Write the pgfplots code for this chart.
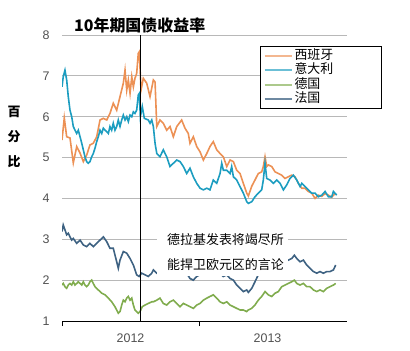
\documentclass[border=0pt]{standalone}
\usepackage{pgfplots}
\pgfplotsset{compat=1.18}
\usepackage{fontspec}
\setmainfont{Liberation Sans}
\newfontfamily\cjk{Noto Sans CJK SC}
\definecolor{spain}{RGB}{236,145,85}
\definecolor{italy}{RGB}{28,157,192}
\definecolor{germany}{RGB}{128,172,78}
\definecolor{france}{RGB}{62,98,130}
\definecolor{ticktext}{RGB}{80,80,80}
\begin{document}
\begin{tikzpicture}[x=1bp,y=1bp]
\useasboundingbox (0,0) rectangle (410,351);
\begin{axis}[
  at={(62bp,30bp)}, anchor=south west, scale only axis,
  width=285bp, height=286bp,
  xmin=0, xmax=24.96, ymin=1, ymax=8,
  axis x line*=bottom, axis y line*=left,
  y axis line style={draw=none},
  x axis line style={-, black, line width=0.9bp},
  ytick={1,2,...,8}, ytick style={draw=none},
  ymajorgrids, grid style={draw=black!28, line width=0.8bp},
  xtick={0,12}, xticklabels={},
  extra x ticks={6,18}, extra x tick labels={2012,2013},
  extra x tick style={major tick length=0pt, grid=none},
  tick align=outside, major tick length=5bp,
  xtick style={black, line width=0.9bp},
  /pgf/number format/assume math mode=true,
  tick label style={font=\fontsize{12.5}{14}\selectfont, text=ticktext},
  yticklabel style={xshift=-4bp},
  xticklabel style={yshift=-9bp},
  legend style={at={(0.695,0.9615)}, anchor=north west, draw=black, line width=0.9bp,
    font=\cjk\fontsize{13}{13}\selectfont, inner xsep=3bp, inner ysep=2bp,
    row sep=0bp, fill=white,
    nodes={text height=10bp, text depth=2.5bp, inner ysep=1bp, text width=82bp}},
  legend cell align=left,
  legend image code/.code={\draw[#1] (0bp,0bp) -- (27bp,0bp);},
]
\addplot[spain, line width=1.6bp, forget plot] coordinates {
(0,5.43)(0.20,5.97)(0.41,5.51)(0.70,5.48)(0.99,4.87)(1.29,5.27)(1.58,5.11)(1.87,4.90)
(2.16,5.06)(2.45,5.31)(2.74,5.35)(3.04,5.51)(3.33,5.92)(3.62,5.96)(3.92,5.92)(4.20,6.08)
(4.49,6.33)(4.79,6.16)(5.08,6.49)(5.37,6.82)(5.52,7.14)(5.67,6.65)(5.81,6.90)(5.96,6.57)
(6.11,6.98)(6.25,6.73)(6.39,6.94)(6.54,7.06)(6.68,7.55)(6.77,7.59)(6.92,6.65)(7.12,6.94)
(7.42,6.82)(7.71,6.49)(8.00,6.90)(8.15,6.85)(8.30,5.76)(8.58,5.92)(8.87,5.84)(9.17,5.67)
(9.46,5.76)(9.75,5.51)(10.05,5.76)(10.48,5.92)(10.77,5.72)(11.06,5.59)(11.21,5.35)(11.50,5.51)
(11.80,5.27)(12.09,5.14)(12.38,4.94)(12.68,5.10)(12.96,5.27)(13.25,5.39)(13.55,5.19)(13.84,5.10)
(14.13,5.02)(14.43,4.78)(14.72,4.94)(15.01,4.90)(15.30,4.69)(15.59,4.61)(15.88,4.37)(16.18,4.13)
(16.32,4.06)(16.62,4.30)(16.90,4.45)(17.19,4.61)(17.49,4.65)(17.63,4.78)(17.78,5.02)(17.93,4.78)
(18.07,4.82)(18.37,4.78)(18.66,4.65)(18.95,4.61)(19.24,4.57)(19.53,4.49)(19.82,4.53)(20.12,4.57)
(20.41,4.53)(20.70,4.37)(21.00,4.25)(21.28,4.25)(21.57,4.17)(21.87,4.13)(22.16,4.00)(22.45,4.08)
(22.75,4.05)(23.04,4.12)(23.33,4.08)(23.62,4.03)(23.91,4.12)
};
\addplot[italy, line width=1.6bp, forget plot] coordinates {
(0,6.73)(0.11,6.98)(0.26,7.14)(0.41,6.90)(0.55,6.49)(0.70,6.16)(0.85,6.00)(0.99,5.76)
(1.14,5.67)(1.29,5.59)(1.43,5.67)(1.58,5.51)(1.73,5.35)(2.01,5.02)(2.16,4.90)(2.30,4.86)
(2.45,4.90)(2.60,5.02)(2.74,5.10)(2.89,5.23)(3.04,5.39)(3.18,5.51)(3.33,5.67)(3.48,5.59)
(3.62,5.72)(3.77,5.67)(3.92,5.63)(4.06,5.59)(4.20,5.76)(4.35,5.67)(4.49,5.84)(4.64,5.67)
(4.79,5.76)(4.93,5.92)(5.08,5.76)(5.23,5.92)(5.37,6.04)(5.52,5.92)(5.67,6.00)(5.81,5.88)
(5.96,6.04)(6.11,6.00)(6.25,6.12)(6.39,6.08)(6.54,6.16)(6.68,6.53)(6.77,6.57)(6.86,6.00)
(7.03,6.25)(7.21,5.96)(7.56,5.92)(7.71,5.84)(7.86,5.92)(8.00,5.76)(8.15,5.35)(8.30,5.10)
(8.58,5.02)(8.87,5.19)(9.17,5.02)(9.46,4.78)(9.75,4.86)(10.05,4.94)(10.34,4.90)(10.63,4.78)
(10.92,4.61)(11.21,4.74)(11.50,4.53)(11.80,4.37)(12.09,4.25)(12.38,4.21)(12.68,4.25)(12.96,4.21)
(13.25,4.45)(13.55,4.37)(13.84,4.61)(13.99,4.86)(14.13,4.69)(14.43,4.69)(14.72,4.61)(14.86,4.78)
(15.01,4.53)(15.30,4.45)(15.59,4.29)(15.88,4.13)(16.18,3.92)(16.32,3.88)(16.62,3.92)(16.90,4.04)
(17.19,4.13)(17.49,4.21)(17.63,4.45)(17.78,4.86)(17.93,4.49)(18.22,4.45)(18.51,4.37)(18.81,4.45)
(19.10,4.37)(19.39,4.21)(19.68,4.33)(19.97,4.49)(20.26,4.57)(20.56,4.45)(20.85,4.29)(21.00,4.37)
(21.28,4.29)(21.57,4.21)(21.87,4.13)(22.16,4.13)(22.45,4.04)(22.75,4.08)(23.04,4.17)(23.33,4.04)
(23.62,4.04)(23.77,4.17)(24.06,4.08)
};
\addplot[germany, line width=1.6bp, forget plot] coordinates {
(0,1.88)(0.11,1.92)(0.26,1.84)(0.41,1.80)(0.55,1.88)(0.70,1.92)(0.85,1.88)(0.99,1.96)
(1.14,1.88)(1.29,1.92)(1.43,1.96)(1.58,1.92)(1.73,1.88)(1.87,1.96)(2.01,1.88)(2.16,1.84)
(2.30,1.88)(2.45,1.96)(2.60,2.00)(2.74,1.92)(2.89,1.84)(3.18,1.76)(3.48,1.68)(3.77,1.64)
(4.06,1.56)(4.35,1.47)(4.64,1.35)(4.93,1.19)(5.08,1.23)(5.23,1.39)(5.37,1.51)(5.52,1.47)
(5.67,1.56)(5.81,1.60)(5.96,1.51)(6.11,1.56)(6.25,1.39)(6.39,1.27)(6.54,1.23)(6.68,1.19)
(6.83,1.23)(7.03,1.35)(7.27,1.39)(7.56,1.43)(7.86,1.47)(8.00,1.47)(8.30,1.51)(8.58,1.56)
(8.87,1.43)(9.17,1.39)(9.46,1.47)(9.75,1.51)(10.05,1.43)(10.34,1.35)(10.63,1.43)(10.92,1.39)
(11.21,1.35)(11.50,1.31)(11.80,1.39)(12.09,1.43)(12.38,1.51)(12.68,1.56)(12.96,1.60)(13.25,1.64)
(13.55,1.56)(13.84,1.47)(14.13,1.43)(14.43,1.47)(14.72,1.39)(15.01,1.35)(15.30,1.31)(15.59,1.27)
(15.88,1.27)(16.18,1.23)(16.32,1.27)(16.62,1.31)(16.90,1.39)(17.19,1.51)(17.49,1.60)(17.78,1.72)
(18.07,1.64)(18.37,1.60)(18.66,1.68)(18.95,1.72)(19.24,1.84)(19.53,1.88)(19.82,1.92)(20.12,1.96)
(20.35,2.00)(20.56,1.92)(20.85,1.88)(21.14,1.92)(21.43,1.84)(21.72,1.84)(22.02,1.76)(22.31,1.72)
(22.60,1.76)(22.89,1.72)(23.19,1.80)(23.47,1.84)(23.77,1.88)(23.97,1.92)
};
\addplot[france, line width=1.6bp, forget plot] coordinates {
(0,3.19)(0.11,3.35)(0.26,3.23)(0.41,3.11)(0.55,3.15)(0.70,3.06)(0.85,2.98)(0.99,3.02)
(1.29,2.90)(1.58,2.98)(1.87,2.86)(2.16,2.82)(2.45,2.90)(2.74,2.82)(3.04,2.90)(3.33,2.98)
(3.62,3.06)(3.92,2.94)(4.20,2.78)(4.49,2.78)(4.79,2.45)(4.93,2.29)(5.08,2.49)(5.37,2.70)
(5.67,2.66)(5.96,2.53)(6.25,2.37)(6.54,2.13)(6.75,2.09)(6.98,2.17)(7.27,2.13)(7.56,2.09)
(7.86,2.17)(8.00,2.25)(8.30,2.17)(8.58,2.21)(8.87,2.29)(9.17,2.17)(9.46,2.13)(9.75,2.21)
(10.05,2.29)(10.34,2.17)(10.63,2.21)(10.92,2.17)(11.21,2.04)(11.50,2.00)(11.80,2.09)(12.09,2.13)
(12.38,2.17)(12.68,2.21)(12.96,2.25)(13.25,2.33)(13.55,2.29)(13.84,2.17)(14.13,2.09)(14.43,2.13)
(14.72,2.04)(15.01,2.00)(15.30,1.88)(15.59,1.80)(15.88,1.72)(16.18,1.76)(16.32,1.70)(16.62,1.80)
(16.90,1.96)(17.19,2.13)(17.49,2.29)(17.78,2.21)(18.07,2.25)(18.37,2.29)(18.66,2.37)(18.95,2.33)
(19.24,2.41)(19.53,2.45)(19.82,2.49)(20.12,2.53)(20.35,2.61)(20.56,2.53)(20.85,2.45)(21.14,2.49)
(21.43,2.37)(21.72,2.29)(22.02,2.21)(22.31,2.17)(22.60,2.21)(22.89,2.17)(23.19,2.21)(23.47,2.21)
(23.77,2.25)(23.97,2.37)
};
\addplot[black, line width=0.9bp, forget plot] coordinates {(6.83,1) (6.83,8)};
\addlegendimage{color=spain!65!white, line width=2bp}
\addlegendentry{西班牙}
\addlegendimage{color=italy!65!white, line width=2bp}
\addlegendentry{意大利}
\addlegendimage{color=germany!65!white, line width=2bp}
\addlegendentry{德国}
\addlegendimage{color=france!75!white, line width=2bp}
\addlegendentry{法国}
\end{axis}
\fill[white] (157,75) rectangle (288,122);
\node[anchor=west, inner sep=0pt, font=\cjk\fontsize{13}{13}\selectfont] at (167,111) {德拉基发表将竭尽所};
\node[anchor=west, inner sep=0pt, font=\cjk\fontsize{13}{13}\selectfont] at (167,86) {能捍卫欧元区的言论};
\node[anchor=west, inner sep=0pt, font=\cjk\bfseries\fontsize{16}{16}\selectfont] at (74,326) {10年期国债收益率};
\node[inner sep=0pt, font=\cjk\bfseries\fontsize{13}{13}\selectfont] at (14,239) {百};
\node[inner sep=0pt, font=\cjk\bfseries\fontsize{13}{13}\selectfont] at (14,214) {分};
\node[inner sep=0pt, font=\cjk\bfseries\fontsize{13}{13}\selectfont] at (14,189) {比};
\end{tikzpicture}
\end{document}
